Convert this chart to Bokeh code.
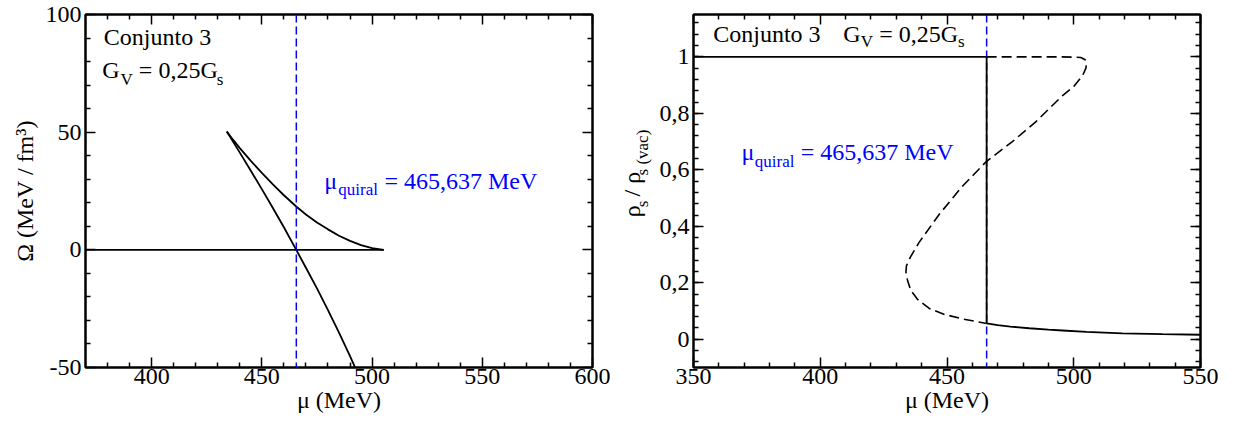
import math
from bokeh.plotting import figure
from bokeh.layouts import row
from bokeh.models import (Label, LinearAxis, FixedTicker, Range1d, Span,
                          CustomLabelingPolicy)
from bokeh.embed import file_html
from bokeh.resources import INLINE

FONT = "Liberation Serif"
BLUE = "#0000ff"
MAIN = 24   # main text size, px
SUB = 17    # subscript size, px

mu_chiral = 465.637

# --- Left panel: grand potential Omega(mu) ---
omega_flat_mu = [370.0, 505.3]
omega_flat = [0.0, 0.0]
omega_upper_mu = [434.1, 437, 440, 445, 450, 455, 460, 465.6, 470, 475, 480, 485,
                  490, 495, 500, 505.3]
omega_upper = [50.25, 46.7, 43.2, 37.8, 32.7, 27.8, 23.2, 18.4, 15.0, 11.6, 8.7, 6.0,
               3.8, 2.0, 0.7, 0.0]
omega_lower_mu = [434.1, 440, 445, 450, 455, 460, 465.6, 470, 475, 480, 485, 490, 495]
omega_lower = [50.25, 41.3, 33.6, 25.8, 17.8, 9.6, 0.0, -7.6, -16.4, -25.6, -35.2,
               -45.2, -55.6]

# --- Right panel: scalar density ratio rho_s / rho_s(vac) ---
rho_vac_mu = [350.0, mu_chiral]
rho_vac = [1.0, 1.0]
rho_jump_mu = [mu_chiral, mu_chiral]
rho_jump = [1.0, 0.056]
rho_high_mu = [mu_chiral, 470, 475, 482.4, 490, 495.6, 505, 519.2, 535, 550]
rho_high = [0.056, 0.050, 0.045, 0.039, 0.034, 0.031, 0.026, 0.021, 0.018, 0.016]
rho_unst_mu = [mu_chiral, 480, 495, 502.8, 504.5, 505.0, 504.8, 503.5, 500, 495.6, 485.0,
               475.8, 465.6, 456.1, 446.9, 439.0, 435.5, 434.0, 433.8, 434.4, 435.7,
               438.5, 443.0, 449.0, 456.1, mu_chiral]
rho_unst = [1.0, 1.0, 1.0, 0.998, 0.99, 0.975, 0.96, 0.934, 0.895, 0.863, 0.770,
            0.700, 0.630, 0.542, 0.442, 0.343, 0.29, 0.26, 0.238, 0.21, 0.173,
            0.14, 0.109, 0.088, 0.072, 0.056]

# tick positions and labels
left_x_major = [400, 450, 500, 550, 600]
left_x_minor = [x for x in range(380, 600, 10) if x % 50]
left_y_major = [-50, 0, 50, 100]
left_y_minor = [y for y in range(-40, 100, 10) if y % 50]
left_y_labels = {-50: "-50", 0: "0", 50: "50", 100: "100"}

right_x_major = [350, 400, 450, 500, 550]
right_x_minor = [x for x in range(360, 550, 10) if x % 50]
right_y_major = [0.0, 0.2, 0.4, 0.6, 0.8, 1.0]
right_y_minor = [round(-0.08 + 0.04 * i, 2) for i in range(31)]
right_y_labels = {0.0: "0", 0.2: "0,2", 0.4: "0,4", 0.6: "0,6", 0.8: "0,8", 1.0: "1"}

# mirrored axes on top / right carry ticks only
no_labels = CustomLabelingPolicy(code="""
    const all = [...indices]
    for (const i of all) indices.unset(i)
    return indices
""")


def style_axes(p, xmaj, xmin, ymaj, ymin, ylabels):
    xt = FixedTicker(ticks=xmaj, minor_ticks=xmin)
    yt = FixedTicker(ticks=ymaj, minor_ticks=ymin)
    p.xaxis.ticker = xt
    p.yaxis.ticker = yt
    p.yaxis.major_label_overrides = ylabels
    p.add_layout(LinearAxis(ticker=xt), "above")
    p.add_layout(LinearAxis(ticker=yt), "right")
    for ax in p.axis:
        ax.axis_line_width = 2
        ax.axis_line_color = "black"
        ax.major_tick_in = 10
        ax.major_tick_out = 0
        ax.minor_tick_in = 5
        ax.minor_tick_out = 0
        ax.major_tick_line_width = 1.5
        ax.minor_tick_line_width = 1.5
        ax.major_label_text_font = FONT
        ax.major_label_text_font_size = f"{MAIN}px"
        ax.major_label_text_color = "black"
        ax.axis_label_text_font = FONT
        ax.axis_label_text_font_style = "normal"
        ax.axis_label_text_font_size = f"{MAIN}px"
        ax.axis_label_text_color = "black"
    p.below[0].major_label_standoff = 1
    p.below[0].axis_label_standoff = 0
    p.left[0].major_label_standoff = 4
    p.left[0].axis_label_standoff = 5
    for ax in p.above + p.right:
        ax.major_label_text_font_size = "0px"
        ax.major_label_standoff = 0
        ax.major_label_policy = no_labels
    p.grid.visible = False
    p.outline_line_color = "black"
    p.outline_line_width = 2


def label(p, x, y, text, size=MAIN, color="black", angle=0.0):
    p.add_layout(Label(x=x, y=y, text=text, text_font=FONT,
                       text_font_size=f"{size}px", text_color=color, angle=angle,
                       text_align="left", text_baseline="alphabetic"))


# ---------------- left panel ----------------
p1 = figure(frame_width=507, frame_height=353, min_border_left=85, min_border_right=20,
            min_border_top=14, min_border_bottom=58,
            x_range=Range1d(370, 600), y_range=Range1d(-50, 100),
            output_backend="svg", toolbar_location=None)
style_axes(p1, left_x_major, left_x_minor, left_y_major, left_y_minor, left_y_labels)
p1.below[0].axis_label = "μ (MeV)"
p1.left[0].axis_label = "Ω (MeV / fm³)"

p1.add_layout(Span(location=mu_chiral, dimension="height", line_color=BLUE,
                   line_width=1.5, line_dash="8 4"))
p1.line(omega_flat_mu, omega_flat, line_color="black", line_width=1.8)
p1.line(omega_upper_mu, omega_upper, line_color="black", line_width=1.8)
p1.line(omega_lower_mu, omega_lower, line_color="black", line_width=1.8)

label(p1, 378.3, 90.3, "Conjunto 3")
label(p1, 377.6, 76.5, "G")
label(p1, 385.9, 72.3, "V", SUB)
label(p1, 394.2, 76.5, "= 0,25G")
label(p1, 429.5, 72.3, "s", SUB)
label(p1, 478.3, 29.4, "μ", MAIN, BLUE)
label(p1, 484.7, 25.5, "quiral", SUB, BLUE)
label(p1, 505.6, 29.4, "= 465,637 MeV", MAIN, BLUE)

# ---------------- strip holding the rotated title of the right panel ----------------
ptitle = figure(width=44, height=425, x_range=Range1d(0, 44), y_range=Range1d(425, 0),
                min_border=0, x_axis_location=None, y_axis_location=None,
                output_backend="svg", toolbar_location=None)
ptitle.outline_line_color = None
ptitle.grid.visible = False
up = math.pi / 2
label(ptitle, 19, 244.0, "ρ", MAIN, angle=up)
label(ptitle, 30, 232.0, "s", SUB, angle=up)
label(ptitle, 19, 219.0, "/ ρ", MAIN, angle=up)
label(ptitle, 30, 193.8, "s (vac)", SUB, angle=up)

# ---------------- right panel ----------------
p2 = figure(frame_width=507, frame_height=353, min_border_left=35, min_border_right=37,
            min_border_top=14, min_border_bottom=58,
            x_range=Range1d(350, 550), y_range=Range1d(-0.1, 1.15),
            output_backend="svg", toolbar_location=None)
style_axes(p2, right_x_major, right_x_minor, right_y_major, right_y_minor, right_y_labels)
p2.below[0].axis_label = "μ (MeV)"

# the chiral line sits beneath the curves, so the jump shows in black
p2.add_layout(Span(location=mu_chiral, dimension="height", line_color=BLUE,
                   line_width=1.5, line_dash="8 4", level="underlay"))
p2.line(rho_vac_mu, rho_vac, line_color="black", line_width=1.8)
p2.line(rho_jump_mu, rho_jump, line_color="black", line_width=1.8)
p2.line(rho_high_mu, rho_high, line_color="black", line_width=1.8)
p2.line(rho_unst_mu, rho_unst, line_color="black", line_width=1.6, line_dash="10 5")

label(p2, 357.8, 1.082, "Conjunto 3")
label(p2, 409.1, 1.082, "G")
label(p2, 416.0, 1.054, "V", SUB)
label(p2, 423.3, 1.082, "= 0,25G")
label(p2, 454.3, 1.054, "s", SUB)
label(p2, 368.9, 0.662, "μ", MAIN, BLUE)
label(p2, 374.2, 0.629, "quiral", SUB, BLUE)
label(p2, 392.3, 0.662, "= 465,637 MeV", MAIN, BLUE)

layout = row(p1, ptitle, p2)
open("out.html", "w").write(file_html(layout, INLINE))
